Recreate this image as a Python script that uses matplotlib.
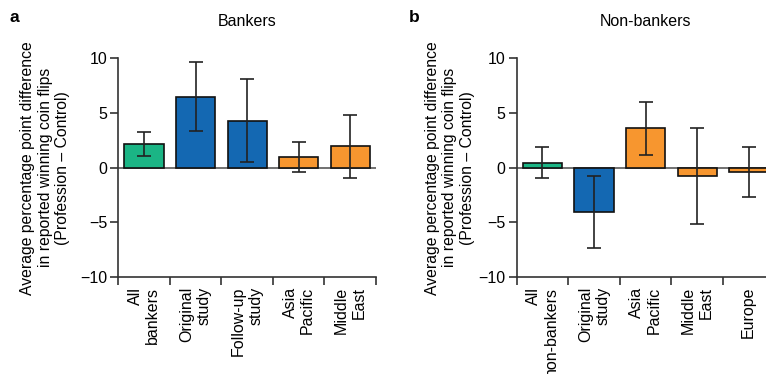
import matplotlib
matplotlib.use("Agg")
import matplotlib.pyplot as plt
import numpy as np

plt.rcParams['font.family'] = ['Liberation Sans', 'DejaVu Sans']

# Panel a: Bankers
bank_labels = ["All\nbankers", "Original\nstudy", "Follow-up\nstudy", "Asia\nPacific", "Middle\nEast"]
bank_values = [2.17, 6.5, 4.24, 0.98, 1.96]
bank_err_low = [1.1, 3.33, 0.49, -0.42, -0.94]
bank_err_high = [3.27, 9.67, 8.09, 2.38, 4.82]
bank_groups = ["all", "study", "study", "region", "region"]

# Panel b: Non-bankers
non_labels = ["All\nnon-bankers", "Original\nstudy", "Asia\nPacific", "Middle\nEast", "Europe"]
non_values = [0.46, -4.05, 3.6, -0.76, -0.42]
non_err_low = [-0.97, -7.35, 1.19, -5.18, -2.71]
non_err_high = [1.92, -0.76, 6.04, 3.66, 1.92]
non_groups = ["all", "study", "region", "region", "region"]

colors = {"all": "#1bb585", "study": "#1468b2", "region": "#f7962f"}

yticks = [-10, -5, 0, 5, 10]
ylabel = "Average percentage point difference\nin reported winning coin flips\n(Profession \u2013 Control)"

W, H = 766, 374
fig = plt.figure(figsize=(W / 100, H / 100), dpi=100)

spine_col = "#333333"
FS = 11.5


def panel(ax_rect, labels, values, lo, hi, groups, title, letter, letter_x, ylab_x):
    ax = fig.add_axes(ax_rect)
    n = len(labels)
    x = np.arange(n) + 0.5
    v = np.array(values)
    yerr = np.array([v - np.array(lo), np.array(hi) - v])
    ax.axhline(0, color="#666666", lw=1.3, zorder=1)
    ax.bar(x, v, width=0.76, color=[colors[g] for g in groups],
           edgecolor="#111111", linewidth=1.2, zorder=2)
    ax.errorbar(x, v, yerr=yerr, fmt="none", ecolor="#222222",
                elinewidth=1.2, capsize=5, capthick=1.2, zorder=3)
    ax.set_xlim(0, n)
    ax.set_ylim(-10, 10)
    ax.set_yticks(yticks)
    ax.set_yticklabels([str(t).replace("-", "\u2212") for t in yticks], fontsize=FS)
    ax.set_xticks(np.arange(n + 1))
    ax.set_xticklabels([])
    ax.set_xticks(x, minor=True)
    ax.set_xticklabels(labels, minor=True, rotation=90, fontsize=FS,
                       ha="center", va="top", multialignment="right")
    ax.tick_params(axis="x", which="minor", length=0, pad=7)
    ax.tick_params(axis="x", which="major", length=6, width=1.2, color=spine_col)
    ax.tick_params(axis="y", length=6, width=1.2, color=spine_col, pad=2)
    for s in ["top", "right"]:
        ax.spines[s].set_visible(False)
    for s in ["left", "bottom"]:
        ax.spines[s].set_color(spine_col)
        ax.spines[s].set_linewidth(1.2)
    ax.set_title(title, fontsize=FS, pad=23)
    ax.set_ylabel(ylabel, fontsize=11.3, linespacing=1.2)
    ax.yaxis.set_label_coords(ylab_x, 0.5)
    fig.text(letter_x / W, 1 - 18 / H, letter, fontsize=12.5, fontweight="bold",
             ha="left", va="center")
    return ax


panel([118.3 / W, 97 / H, 257.7 / W, 218.7 / H], bank_labels, bank_values,
      bank_err_low, bank_err_high, bank_groups, "Bankers", "a", 10, -48 / 257.7)
panel([516.7 / W, 97 / H, 257.7 / W, 218.7 / H], non_labels, non_values,
      non_err_low, non_err_high, non_groups, "Non-bankers", "b", 409, -42 / 257.7)

fig.savefig("out.png", dpi=100)
